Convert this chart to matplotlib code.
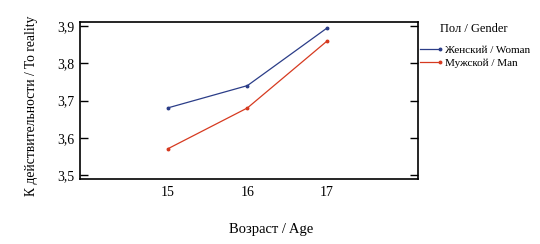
import matplotlib.pyplot as plt
from matplotlib.ticker import FuncFormatter
from matplotlib.lines import Line2D
from matplotlib.legend_handler import HandlerLine2D

plt.rcParams['font.family'] = ['Liberation Serif', 'DejaVu Serif']

ages = [15, 16, 17]
woman = [3.68, 3.74, 3.895]
man = [3.57, 3.68, 3.86]
yticks = [3.5, 3.6, 3.7, 3.8, 3.9]

blue = '#2b3d88'
red = '#d63a20'


class EndMarker(HandlerLine2D):
    # marker only at the right end of the legend line
    def create_artists(self, *args, **kwargs):
        arts = super().create_artists(*args, **kwargs)
        for a in arts:
            a.set_markevery(slice(-1, None))
        return arts


fig = plt.figure(figsize=(5.4, 2.44), dpi=100)
ax = fig.add_axes([80 / 540, 1 - 179 / 244, 338 / 540, 157 / 244])

ax.plot(ages, woman, color=blue, lw=0.9, marker='o', ms=1.8)
ax.plot(ages, man, color=red, lw=0.9, marker='o', ms=1.8)

ax.set_xlim(13.9, 18.14)
ax.set_ylim(3.489, 3.911)
ax.set_xticks(ages)
ax.set_yticks(yticks)
ax.yaxis.set_major_formatter(FuncFormatter(lambda v, p: f'{v:.1f}'.replace('.', ',')))
ax.tick_params(axis='y', direction='in', length=6, width=1, right=True, labelsize=10, pad=4)
ax.tick_params(axis='x', length=0, labelsize=10, pad=5)
for s in ax.spines.values():
    s.set_linewidth(1.2)

ax.set_xlabel('Возраст / Age', fontsize=10.5)
ax.xaxis.set_label_coords(0.565, -0.28)
ax.set_ylabel('К действительности / To reality', fontsize=9.8)
ax.yaxis.set_label_coords(-0.124, 0.465)

fig.text(440 / 540, 1 - 29 / 244, 'Пол / Gender', fontsize=9, va='center', ha='left')
handles = [Line2D([], [], color=blue, lw=0.9, marker='o', ms=1.8),
           Line2D([], [], color=red, lw=0.9, marker='o', ms=1.8)]
leg = fig.legend(handles, ['Женский / Woman', 'Мужской / Man'],
                 loc='upper left', bbox_to_anchor=(420 / 540, 1 - 45 / 244),
                 frameon=False, fontsize=8, handlelength=1.8,
                 handler_map={Line2D: EndMarker()},
                 handletextpad=0.45, labelspacing=0.3, borderaxespad=0, borderpad=0)

fig.savefig('out.png', dpi=100)
